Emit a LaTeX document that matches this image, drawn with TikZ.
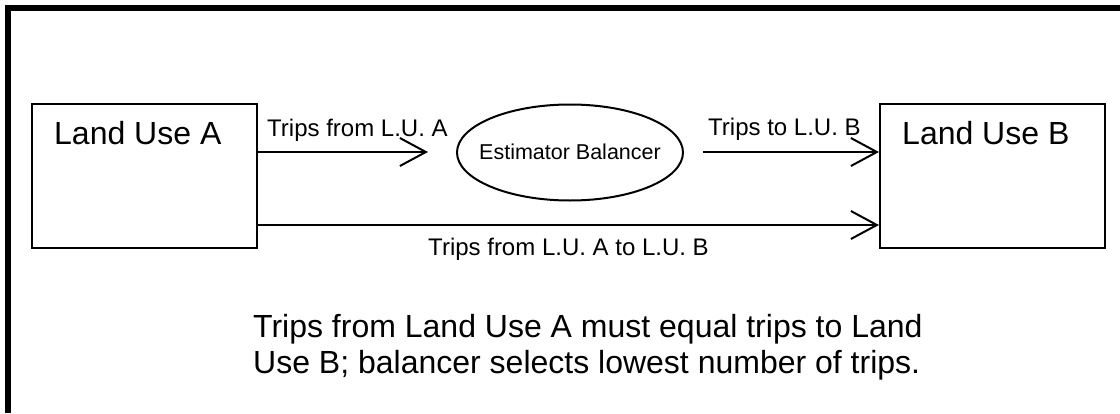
\documentclass[tikz,border=0pt]{standalone}
\usepackage{fontspec}
\setmainfont{Liberation Sans}
\usetikzlibrary{arrows.meta,shapes.geometric}
\begin{document}
\begin{tikzpicture}[x=1pt,y=-1pt,
  box/.style={draw,line width=2pt,minimum width=225pt,minimum height=144pt,inner sep=0pt},
  big/.style={font=\fontsize{32}{36}\selectfont,inner sep=0pt},
  lbl/.style={font=\fontsize{24}{28}\selectfont,inner sep=0pt},
  flow/.style={line width=2pt,-{Straight Barb[length=26pt,width=28pt,line width=2pt]},line join=round}]
\useasboundingbox (0,0) rectangle (1120,413);
\fill[white] (0,0) rectangle (1120,413);
\draw[line width=6pt] (8,413) -- (8,8) -- (1120,8);
\node[box] (A) at (144.5,175.5) {};
\node[box] (B) at (992.5,176) {};
\node[big,anchor=base west] (ta) at (54,144) {Land Use A};
\node[big,anchor=base west] (tb) at (902,144) {Land Use B};
\node[draw,ellipse,line width=2pt,minimum width=226pt,minimum height=96pt,inner sep=0pt] (E) at (570,152.5) {};
\node[font=\fontsize{21.5}{25}\selectfont,inner sep=0pt,anchor=base] (et) at (570,159) {Estimator Balancer};
\coordinate (a1) at (A.east |- 0,152);
\coordinate (e1) at (428,152);
\coordinate (e2) at (703,152);
\coordinate (b1) at (B.west |- 0,152);
\coordinate (a2) at (A.east |- 0,225);
\coordinate (b2) at (B.west |- 0,225);
\draw[flow] (a1) -- (e1);
\draw[flow] (e2) -- (b1);
\draw[flow] (a2) -- (b2);
\node[lbl,anchor=base west] (l1) at (267,136) {Trips from L.U. A};
\node[lbl,anchor=base west] (l2) at (708,135) {Trips to L.U. B};
\node[lbl,anchor=base] (l3) at (568.5,255) {Trips from L.U. A to L.U. B};
\node[big,anchor=base west] (n1) at (253,337) {Trips from Land Use A must equal trips to Land};
\node[big,anchor=base west] (n2) at (253,373) {Use B; balancer selects lowest number of trips.};
\end{tikzpicture}
\end{document}
